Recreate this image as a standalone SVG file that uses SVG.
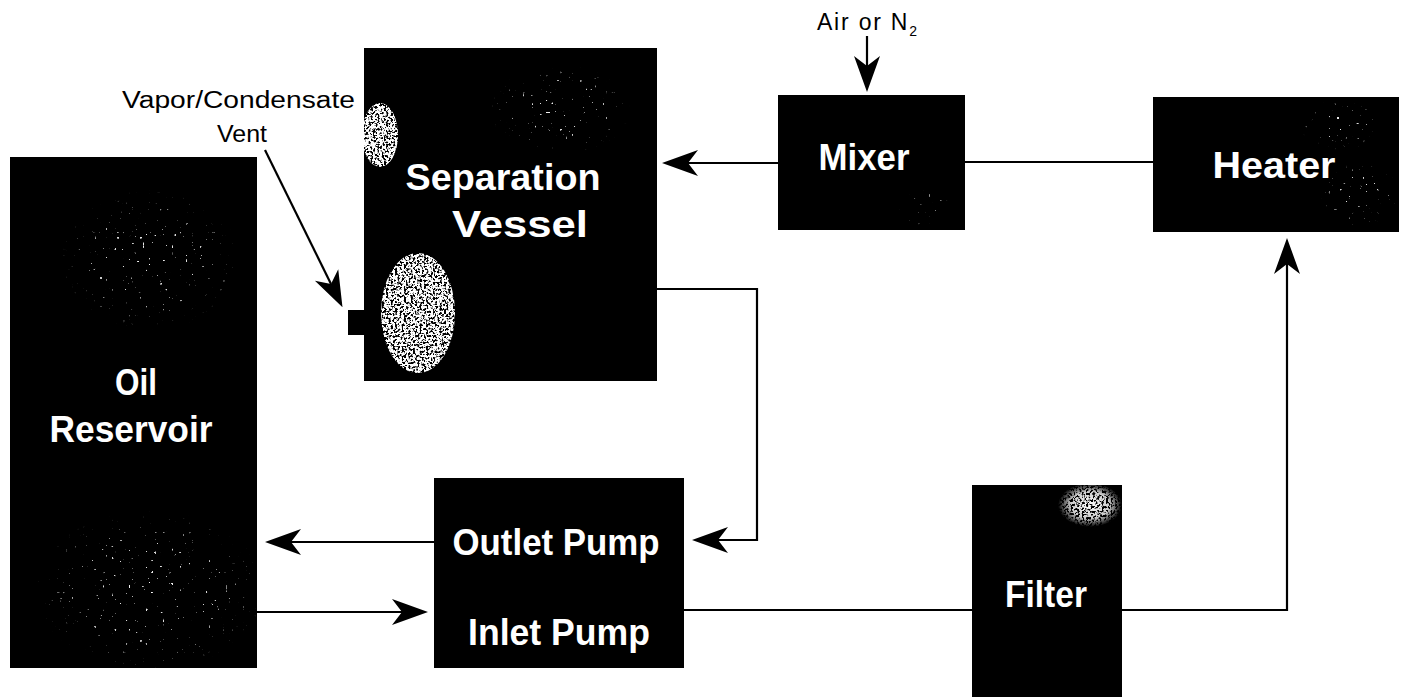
<svg xmlns="http://www.w3.org/2000/svg" width="1407" height="697" viewBox="0 0 1407 697">
<style>
.box{fill:#000;}
.lbl{font-family:"Liberation Sans",Arial,sans-serif;font-weight:bold;font-size:37px;fill:#fff;text-anchor:middle;}
.note{font-family:"Liberation Sans",Arial,sans-serif;font-size:23px;fill:#000;}
.wire{fill:none;stroke:#000;stroke-width:2.2;}
.arr{marker-end:url(#head);}
</style>
<defs>
<marker id="head" markerUnits="userSpaceOnUse" viewBox="-37 -14 38 28" markerWidth="38" markerHeight="28" refX="-26" refY="0" orient="auto" overflow="visible">
<path d="M0,0 L-36,-13 L-26,0 L-36,13 Z" fill="#000"/>
</marker>
<radialGradient id="fade">
<stop offset="0" stop-color="#fff" stop-opacity="1"/>
<stop offset="0.6" stop-color="#fff" stop-opacity="0.8"/>
<stop offset="1" stop-color="#fff" stop-opacity="0"/>
</radialGradient>
<filter id="blob" x="0" y="0" width="100%" height="100%">
<feTurbulence type="fractalNoise" baseFrequency="0.45" numOctaves="2" seed="4" result="n"/>
<feColorMatrix in="n" type="matrix" values="0 0 0 0 1 0 0 0 0 1 0 0 0 0 1 9 0 0 0 -3.6" result="w"/>
<feComposite in="w" in2="SourceGraphic" operator="in"/>
</filter>
<filter id="dust" x="0" y="0" width="100%" height="100%">
<feTurbulence type="fractalNoise" baseFrequency="0.35" numOctaves="1" seed="9" result="n"/>
<feColorMatrix in="n" type="matrix" values="0 0 0 0 1 0 0 0 0 1 0 0 0 0 1 26 0 0 0 -18.5" result="w"/>
<feComposite in="w" in2="SourceGraphic" operator="in"/>
</filter>
</defs>

<g id="connectors">
<line class="wire arr" x1="778" y1="163" x2="688" y2="163"/>
<line class="wire" x1="965" y1="162" x2="1153" y2="162"/>
<line class="wire arr" x1="867" y1="36" x2="867" y2="66"/>
<polyline class="wire arr" points="657,289 757,289 757,540 718,540"/>
<line class="wire arr" x1="434" y1="542" x2="291" y2="542"/>
<line class="wire arr" x1="257" y1="612" x2="402" y2="612"/>
<line class="wire" x1="684" y1="610" x2="972" y2="610"/>
<polyline class="wire arr" points="1122,610 1287,610 1287,264"/>
<line class="wire arr" x1="265" y1="150" x2="331" y2="284"/>
</g>

<g id="oil-reservoir">
<rect class="box" x="10" y="157" width="247" height="511"/>
<ellipse cx="150" cy="590" rx="115" ry="80" fill="url(#fade)" filter="url(#dust)"/>
<ellipse cx="150" cy="260" rx="90" ry="70" fill="url(#fade)" filter="url(#dust)"/>
<text class="lbl" x="136" y="395" textLength="42" lengthAdjust="spacingAndGlyphs">Oil</text>
<text class="lbl" x="131" y="442" textLength="163" lengthAdjust="spacingAndGlyphs">Reservoir</text>
</g>

<g id="separation-vessel">
<rect class="box" x="364" y="48" width="293" height="333"/>
<rect class="box" x="348" y="310" width="17" height="25"/>
<ellipse cx="418" cy="313" rx="37" ry="60" fill="#fff" filter="url(#blob)"/>
<ellipse cx="380" cy="135" rx="18" ry="32" fill="#fff" filter="url(#blob)"/>
<ellipse cx="560" cy="110" rx="70" ry="45" fill="url(#fade)" filter="url(#dust)"/>
<text class="lbl" x="503" y="190" textLength="195" lengthAdjust="spacingAndGlyphs">Separation</text>
<text class="lbl" x="520" y="237" textLength="136" lengthAdjust="spacingAndGlyphs">Vessel</text>
</g>

<g id="mixer">
<rect class="box" x="778" y="95" width="187" height="135"/>
<ellipse cx="925" cy="208" rx="26" ry="18" fill="url(#fade)" filter="url(#dust)"/>
<text class="lbl" x="864" y="170" textLength="91" lengthAdjust="spacingAndGlyphs">Mixer</text>
</g>

<g id="heater">
<rect class="box" x="1153" y="97" width="246" height="135"/>
<ellipse cx="1360" cy="195" rx="40" ry="32" fill="url(#fade)" filter="url(#dust)"/>
<ellipse cx="1340" cy="125" rx="40" ry="25" fill="url(#fade)" filter="url(#dust)"/>
<text class="lbl" x="1274" y="178" textLength="123" lengthAdjust="spacingAndGlyphs">Heater</text>
</g>

<g id="pumps">
<rect class="box" x="434" y="478" width="250" height="190"/>
<text class="lbl" x="556" y="555" textLength="207" lengthAdjust="spacingAndGlyphs">Outlet Pump</text>
<text class="lbl" x="559" y="645" textLength="182" lengthAdjust="spacingAndGlyphs">Inlet Pump</text>
</g>

<g id="filter">
<rect class="box" x="972" y="485" width="150" height="212"/>
<ellipse cx="1090" cy="505" rx="32" ry="22" fill="url(#fade)" filter="url(#blob)"/>
<text class="lbl" x="1046" y="607" textLength="82" lengthAdjust="spacingAndGlyphs">Filter</text>
</g>

<g id="labels">
<text class="note" x="122" y="108" textLength="233" lengthAdjust="spacingAndGlyphs">Vapor/Condensate</text>
<text class="note" x="217" y="142" textLength="50" lengthAdjust="spacingAndGlyphs">Vent</text>
<text class="note" x="817" y="30" font-size="21" textLength="100">Air or N<tspan dy="6" font-size="14">2</tspan></text>
</g>
</svg>
